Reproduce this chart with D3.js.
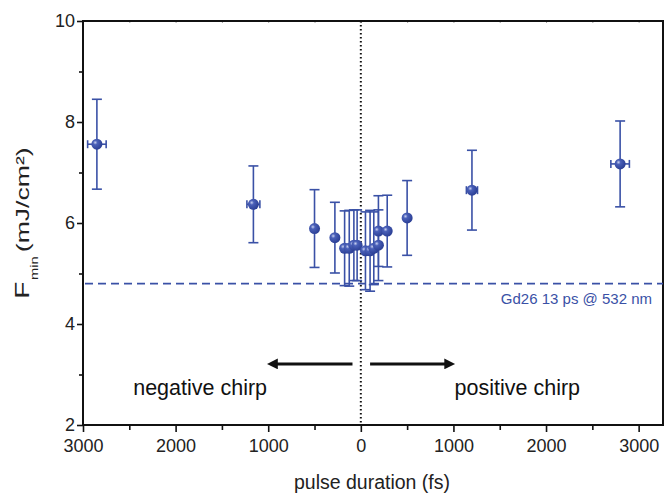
<!DOCTYPE html>
<html><head><meta charset="utf-8">
<script src="https://cdn.jsdelivr.net/npm/d3@7"></script>
<style>body{margin:0;background:#fff}svg{display:block}text{font-family:"Liberation Sans",Arial,sans-serif}</style>
</head><body><div id="chart"></div>
<script>
const duration = [-2850, -1160, -500, -280, -175, -125, -75, -40, 50, 100, 140, 190, 190, 285, 500, 1200, 2800];
const fmin     = [7.56, 6.37, 5.89, 5.71, 5.50, 5.50, 5.56, 5.56, 5.45, 5.45, 5.50, 5.56, 5.84, 5.84, 6.10, 6.65, 7.17];
const yErr     = [0.89, 0.76, 0.77, 0.70, 0.74, 0.75, 0.70, 0.70, 0.77, 0.80, 0.72, 0.70, 0.70, 0.71, 0.74, 0.79, 0.85];
const xErr     = [100, 70, 0, 0, 0, 0, 0, 0, 0, 0, 0, 0, 0, 0, 0, 60, 100];
const xTicks = [-3000, -2000, -1000, 0, 1000, 2000, 3000];
const yTicks = [2, 4, 6, 8, 10];
const refLevel = 4.8;
const refLabel = "Gd26 13 ps @ 532 nm";
const arrows = [{from: -90, to: -1070, y: 3.21}, {from: 100, to: 1075, y: 3.21}];
const chirpLabels = [{x: -1735, y: 2.6, t: "negative chirp"}, {x: 1690, y: 2.6, t: "positive chirp"}];

const W = 672, H = 494;
const svg = d3.select("#chart").append("svg").attr("width", W).attr("height", H);
const x = d3.scaleLinear().domain([-3000, 3263]).range([83, 663]);
const y = d3.scaleLinear().domain([2, 10]).range([425, 21]);
const blue = "#3a51a6";

// axes
const gx = svg.append("g").attr("transform", `translate(0,${y(2)})`)
  .call(d3.axisBottom(x).tickValues(xTicks).tickSize(7).tickFormat(d => Math.abs(d)));
gx.append("g").call(d3.axisBottom(x).tickValues(d3.range(-2500, 3300, 1000)).tickSize(5).tickFormat(""));
const gy = svg.append("g").attr("transform", `translate(${x.range()[0]},0)`)
  .call(d3.axisLeft(y).tickValues(yTicks).tickSize(6));
gy.append("g").call(d3.axisLeft(y).tickValues([3, 5, 7, 9]).tickSize(4).tickFormat(""));
const gt = svg.append("g").attr("transform", `translate(0,${y(10)})`)
  .call(d3.axisTop(x).tickValues(d3.range(-2500, 3300, 500)).tickSize(-2).tickFormat(""));
svg.selectAll(".domain").remove();
svg.selectAll(".tick line").attr("stroke", "#111").attr("stroke-width", 1.6);
gt.selectAll(".tick line").attr("stroke-width", 0.8).attr("stroke", "#888");
svg.selectAll(".tick text").attr("font-size", 18).attr("fill", "#222");
gx.selectAll(".tick text").attr("dy", "0.95em");
gy.selectAll(".tick text").attr("dx", "0.05em");
svg.append("rect").attr("x", x.range()[0]).attr("y", y(10))
  .attr("width", x.range()[1] - x.range()[0]).attr("height", y(2) - y(10))
  .attr("fill", "none").attr("stroke", "#111").attr("stroke-width", 2);

// zero line
svg.append("line").attr("x1", x(0)).attr("x2", x(0)).attr("y1", y(10)).attr("y2", y(2))
  .attr("stroke", "#111").attr("stroke-width", 2).attr("stroke-dasharray", "1.5,2.5");

// reference level
svg.append("line").attr("x1", x.range()[0] + 2).attr("x2", x.range()[1]).attr("y1", y(refLevel)).attr("y2", y(refLevel))
  .attr("stroke", blue).attr("stroke-width", 1.8).attr("stroke-dasharray", "8,5");
svg.append("text").attr("x", 652).attr("y", y(refLevel) + 20).attr("text-anchor", "end")
  .attr("font-size", 15).attr("fill", blue).text(refLabel);

// arrows
const defs = svg.append("defs");
defs.append("marker").attr("id", "ah").attr("viewBox", "0 0 10 10").attr("refX", 1).attr("refY", 5)
  .attr("markerWidth", 5).attr("markerHeight", 3.6).attr("orient", "auto").attr("markerUnits", "strokeWidth")
  .append("path").attr("d", "M0,0L10,5L0,10Z").attr("fill", "#111");
arrows.forEach(a => {
  const dir = Math.sign(a.to - a.from);
  svg.append("line").attr("x1", x(a.from)).attr("x2", x(a.to) - dir * 15)
    .attr("y1", y(a.y)).attr("y2", y(a.y)).attr("stroke", "#111").attr("stroke-width", 3)
    .attr("marker-end", "url(#ah)");
});
chirpLabels.forEach(c => svg.append("text").attr("x", x(c.x)).attr("y", y(c.y))
  .attr("text-anchor", "middle").attr("font-size", 21.5).attr("fill", "#111").text(c.t));

// gradient for spheres
const grad = defs.append("radialGradient").attr("id", "sph").attr("cx", "35%").attr("cy", "35%").attr("r", "65%");
grad.append("stop").attr("offset", "0%").attr("stop-color", "#c8d0f0");
grad.append("stop").attr("offset", "30%").attr("stop-color", "#4a60b8");
grad.append("stop").attr("offset", "100%").attr("stop-color", "#2c4096");

// error bars + points
const data = duration.map((d, i) => ({x: d, y: fmin[i], ey: yErr[i], ex: xErr[i]}));
const eb = svg.append("g").attr("stroke", blue).attr("stroke-width", 1.6).attr("fill", "none");
data.forEach(d => {
  const cx = x(d.x), cap = 5;
  eb.append("line").attr("x1", cx).attr("x2", cx).attr("y1", y(d.y + d.ey)).attr("y2", y(d.y - d.ey));
  [d.y + d.ey, d.y - d.ey].forEach(v => eb.append("line").attr("x1", cx - cap).attr("x2", cx + cap).attr("y1", y(v)).attr("y2", y(v)));
  if (d.ex > 0) {
    eb.append("line").attr("x1", x(d.x - d.ex)).attr("x2", x(d.x + d.ex)).attr("y1", y(d.y)).attr("y2", y(d.y));
    [d.x - d.ex, d.x + d.ex].forEach(v => eb.append("line").attr("x1", x(v)).attr("x2", x(v)).attr("y1", y(d.y) - 4).attr("y2", y(d.y) + 4));
  }
});
svg.append("g").selectAll("circle").data(data).join("circle")
  .attr("cx", d => x(d.x)).attr("cy", d => y(d.y)).attr("r", 5.5).attr("fill", "url(#sph)");

// axis titles
svg.append("text").attr("x", (x.range()[0] + x.range()[1]) / 2 - 1).attr("y", 489).attr("text-anchor", "middle")
  .attr("font-size", 19.5).attr("fill", "#222").text("pulse duration (fs)");
const yt = svg.append("text").attr("transform", `translate(29,223) rotate(-90) scale(1.4,1)`).attr("text-anchor", "middle")
  .attr("font-size", 19).attr("fill", "#222");
yt.append("tspan").attr("font-size", 20).text("F");
yt.append("tspan").attr("font-size", 10.5).attr("dy", 9).attr("dx", 1).text("min");
yt.append("tspan").attr("dy", -9).attr("dx", 3).text("(mJ/cm²)");
</script></body></html>
